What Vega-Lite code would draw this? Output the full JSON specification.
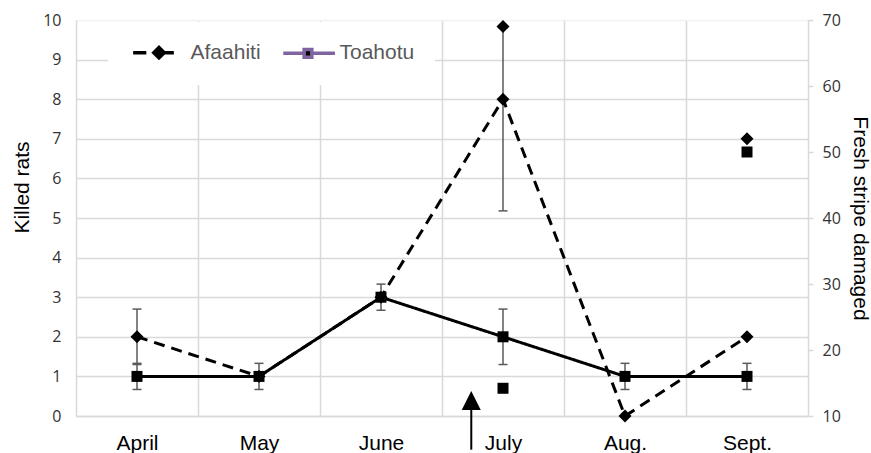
{
  "$schema": "https://vega.github.io/schema/vega-lite/v6.json",
  "width": 732,
  "height": 396,
  "autosize": {"type": "none"},
  "padding": {"left": 76, "top": 20, "right": 63, "bottom": 37},
  "background": "white",
  "config": {"view": {"stroke": null}, "font": "Liberation Sans"},
  "datasets": {
    "rats": [
      {"month": 1, "series": "Afaahiti", "rats": 2},
      {"month": 2, "series": "Afaahiti", "rats": 1},
      {"month": 3, "series": "Afaahiti", "rats": 3},
      {"month": 4, "series": "Afaahiti", "rats": 8},
      {"month": 5, "series": "Afaahiti", "rats": 0},
      {"month": 6, "series": "Afaahiti", "rats": 2},
      {"month": 1, "series": "Toahotu", "rats": 1},
      {"month": 2, "series": "Toahotu", "rats": 1},
      {"month": 3, "series": "Toahotu", "rats": 3},
      {"month": 4, "series": "Toahotu", "rats": 2},
      {"month": 5, "series": "Toahotu", "rats": 1},
      {"month": 6, "series": "Toahotu", "rats": 1}
    ],
    "errs": [
      {"month": 1, "series": "Afaahiti", "lo": 1.3, "hi": 2.7},
      {"month": 1, "series": "Toahotu", "lo": 0.67, "hi": 1.33},
      {"month": 2, "series": "Toahotu", "lo": 0.67, "hi": 1.33},
      {"month": 3, "series": "Toahotu", "lo": 2.67, "hi": 3.33},
      {"month": 4, "series": "Afaahiti", "lo": 5.18, "hi": 9.8},
      {"month": 4, "series": "Toahotu", "lo": 1.3, "hi": 2.7},
      {"month": 5, "series": "Toahotu", "lo": 0.67, "hi": 1.33},
      {"month": 6, "series": "Toahotu", "lo": 0.67, "hi": 1.33}
    ],
    "damage": [
      {"month": 4, "series": "Afaahiti", "damage": 69},
      {"month": 6, "series": "Afaahiti", "damage": 52},
      {"month": 4, "series": "Toahotu", "damage": 14.2},
      {"month": 6, "series": "Toahotu", "damage": 50}
    ],
    "arrow": [
      {"month": 3.74, "from": -0.85, "to": 0.3, "head": 0.39}
    ]
  },
  "layer": [
    {
      "layer": [
        {
          "data": {"name": "rats"},
          "mark": {"type": "line", "color": "black", "strokeWidth": 3, "strokeCap": "butt"},
          "encoding": {
            "x": {
              "field": "month", "type": "quantitative",
              "scale": {"domain": [0.5, 6.5], "nice": false, "zero": false},
              "axis": {
                "title": null,
                "values": [1, 1.5, 2, 2.5, 3, 3.5, 4, 4.5, 5, 5.5, 6],
                "labelExpr": "datum.value % 1 === 0 ? ['April','May','June','July','Aug.','Sept.'][datum.value - 1] : ''",
                "labelFont": "Liberation Sans", "labelFontSize": 21, "labelColor": "black",
                "labelPadding": 16, "labelOverlap": false, "labelFlush": false,
                "ticks": false,
                "grid": true, "gridColor": "#d9d9d9", "gridWidth": 1.5,
                "gridOpacity": {"condition": {"test": "datum.value % 1 === 0", "value": 0}, "value": 1},
                "domainColor": "#d9d9d9", "domainWidth": 1.5
              }
            },
            "y": {
              "field": "rats", "type": "quantitative",
              "scale": {"domain": [0, 10], "nice": false},
              "axis": {
                "title": "Killed rats", "values": [0, 1, 2, 3, 4, 5, 6, 7, 8, 9, 10], "labelOverlap": false,
                "ticks": false, "grid": true,
                "gridColor": {"condition": {"test": "datum.value === 10", "value": "#f2f2f2"}, "value": "#d9d9d9"},
                "gridWidth": 1.5, "domainColor": "#d9d9d9", "domainWidth": 1.5,
                "labelFont": "Open Sans", "labelFontSize": 16, "labelColor": "#333333", "labelPadding": 15,
                "titleFont": "Liberation Sans", "titleFontSize": 21, "titleFontWeight": "normal", "titleColor": "black",
                "titleX": -54, "titleY": 167, "titleAngle": -90, "titleAlign": "center", "titleBaseline": "middle"
              }
            },
            "strokeDash": {
              "field": "series", "type": "nominal",
              "scale": {"range": [[11, 7], [1, 0]]},
              "legend": null
            }
          }
        },
        {
          "data": {"name": "rats"},
          "mark": {"type": "point", "filled": false, "fill": "black", "opacity": 0},
          "encoding": {
            "x": {"field": "month", "type": "quantitative"},
            "y": {
              "field": "rats", "type": "quantitative",
              "axis": {
                "title": "Killed rats", "values": [0, 1, 2, 3, 4, 5, 6, 7, 8, 9, 10], "labelOverlap": false,
                "ticks": false, "grid": true,
                "gridColor": {"condition": {"test": "datum.value === 10", "value": "#f2f2f2"}, "value": "#d9d9d9"},
                "gridWidth": 1.5, "domainColor": "#d9d9d9", "domainWidth": 1.5,
                "labelFont": "Open Sans", "labelFontSize": 16, "labelColor": "#333333", "labelPadding": 15,
                "titleFont": "Liberation Sans", "titleFontSize": 21, "titleFontWeight": "normal", "titleColor": "black",
                "titleX": -54, "titleY": 167, "titleAngle": -90, "titleAlign": "center", "titleBaseline": "middle"
              }
            },
            "color": {
              "field": "series", "type": "nominal",
              "scale": {"range": ["black", "#8064a2"]},
              "legend": {
                "title": null, "orient": "none", "legendX": 32, "legendY": 2,
                "direction": "horizontal", "fillColor": "white", "padding": 20,
                "columnPadding": 15, "labelOffset": 21, "symbolOffset": 20.5,
                "labelFont": "Liberation Sans", "labelFontSize": 21, "labelColor": "#595959",
                "symbolSize": 121, "symbolStrokeWidth": 3.5,
                "symbolOpacity": 1, "symbolFillColor": "black",
                "encode": {"symbols": {"fill": {"value": "black"}, "fillOpacity": {"value": 1}}}
              }
            },
            "shape": {
              "field": "series", "type": "nominal",
              "scale": {
                "range": [
                  "M-4.7,0H-2.3M0.6,0H2.7M0,-0.95L0.95,0L0,0.95L-0.95,0Z",
                  "M-4.5,0H-0.7M0.7,0H4.9M-0.7,-0.7H0.7V0.7H-0.7Z"
                ]
              },
              "legend": {
                "title": null, "orient": "none", "legendX": 32, "legendY": 2,
                "direction": "horizontal", "fillColor": "white", "padding": 20,
                "columnPadding": 15, "labelOffset": 21, "symbolOffset": 20.5,
                "labelFont": "Liberation Sans", "labelFontSize": 21, "labelColor": "#595959",
                "symbolSize": 121, "symbolStrokeWidth": 3.5,
                "symbolOpacity": 1, "symbolFillColor": "black",
                "encode": {"symbols": {"fill": {"value": "black"}, "fillOpacity": {"value": 1}}}
              }
            }
          }
        },
        {
          "data": {"name": "errs"},
          "mark": {"type": "rule", "color": "#5a5a5a", "strokeWidth": 1.5},
          "encoding": {
            "x": {"field": "month", "type": "quantitative"},
            "y": {
              "field": "lo", "type": "quantitative",
              "axis": {
                "title": "Killed rats", "values": [0, 1, 2, 3, 4, 5, 6, 7, 8, 9, 10], "labelOverlap": false,
                "ticks": false, "grid": true,
                "gridColor": {"condition": {"test": "datum.value === 10", "value": "#f2f2f2"}, "value": "#d9d9d9"},
                "gridWidth": 1.5, "domainColor": "#d9d9d9", "domainWidth": 1.5,
                "labelFont": "Open Sans", "labelFontSize": 16, "labelColor": "#333333", "labelPadding": 15,
                "titleFont": "Liberation Sans", "titleFontSize": 21, "titleFontWeight": "normal", "titleColor": "black",
                "titleX": -54, "titleY": 167, "titleAngle": -90, "titleAlign": "center", "titleBaseline": "middle"
              }
            },
            "y2": {"field": "hi"}
          }
        },
        {
          "data": {"name": "errs"},
          "mark": {"type": "tick", "orient": "horizontal", "size": 9, "thickness": 1.5, "color": "#5a5a5a", "opacity": 1},
          "encoding": {
            "x": {"field": "month", "type": "quantitative"},
            "y": {
              "field": "lo", "type": "quantitative",
              "axis": {
                "title": "Killed rats", "values": [0, 1, 2, 3, 4, 5, 6, 7, 8, 9, 10], "labelOverlap": false,
                "ticks": false, "grid": true,
                "gridColor": {"condition": {"test": "datum.value === 10", "value": "#f2f2f2"}, "value": "#d9d9d9"},
                "gridWidth": 1.5, "domainColor": "#d9d9d9", "domainWidth": 1.5,
                "labelFont": "Open Sans", "labelFontSize": 16, "labelColor": "#333333", "labelPadding": 15,
                "titleFont": "Liberation Sans", "titleFontSize": 21, "titleFontWeight": "normal", "titleColor": "black",
                "titleX": -54, "titleY": 167, "titleAngle": -90, "titleAlign": "center", "titleBaseline": "middle"
              }
            }
          }
        },
        {
          "data": {"name": "errs"},
          "mark": {"type": "tick", "orient": "horizontal", "size": 9, "thickness": 1.5, "color": "#5a5a5a", "opacity": 1},
          "encoding": {
            "x": {"field": "month", "type": "quantitative"},
            "y": {
              "field": "hi", "type": "quantitative",
              "axis": {
                "title": "Killed rats", "values": [0, 1, 2, 3, 4, 5, 6, 7, 8, 9, 10], "labelOverlap": false,
                "ticks": false, "grid": true,
                "gridColor": {"condition": {"test": "datum.value === 10", "value": "#f2f2f2"}, "value": "#d9d9d9"},
                "gridWidth": 1.5, "domainColor": "#d9d9d9", "domainWidth": 1.5,
                "labelFont": "Open Sans", "labelFontSize": 16, "labelColor": "#333333", "labelPadding": 15,
                "titleFont": "Liberation Sans", "titleFontSize": 21, "titleFontWeight": "normal", "titleColor": "black",
                "titleX": -54, "titleY": 167, "titleAngle": -90, "titleAlign": "center", "titleBaseline": "middle"
              }
            }
          }
        },
        {
          "data": {"name": "rats"},
          "transform": [{"filter": "datum.series === 'Afaahiti'"}],
          "mark": {"type": "point", "filled": true, "size": 121, "color": "black", "opacity": 1, "shape": "M0,-1.18L1.18,0L0,1.18L-1.18,0Z"},
          "encoding": {
            "x": {"field": "month", "type": "quantitative"},
            "y": {
              "field": "rats", "type": "quantitative",
              "axis": {
                "title": "Killed rats", "values": [0, 1, 2, 3, 4, 5, 6, 7, 8, 9, 10], "labelOverlap": false,
                "ticks": false, "grid": true,
                "gridColor": {"condition": {"test": "datum.value === 10", "value": "#f2f2f2"}, "value": "#d9d9d9"},
                "gridWidth": 1.5, "domainColor": "#d9d9d9", "domainWidth": 1.5,
                "labelFont": "Open Sans", "labelFontSize": 16, "labelColor": "#333333", "labelPadding": 15,
                "titleFont": "Liberation Sans", "titleFontSize": 21, "titleFontWeight": "normal", "titleColor": "black",
                "titleX": -54, "titleY": 167, "titleAngle": -90, "titleAlign": "center", "titleBaseline": "middle"
              }
            }
          }
        },
        {
          "data": {"name": "rats"},
          "transform": [{"filter": "datum.series === 'Toahotu'"}],
          "mark": {"type": "point", "filled": true, "size": 121, "color": "black", "opacity": 1, "shape": "M-1,-1H1V1H-1Z"},
          "encoding": {
            "x": {"field": "month", "type": "quantitative"},
            "y": {
              "field": "rats", "type": "quantitative",
              "axis": {
                "title": "Killed rats", "values": [0, 1, 2, 3, 4, 5, 6, 7, 8, 9, 10], "labelOverlap": false,
                "ticks": false, "grid": true,
                "gridColor": {"condition": {"test": "datum.value === 10", "value": "#f2f2f2"}, "value": "#d9d9d9"},
                "gridWidth": 1.5, "domainColor": "#d9d9d9", "domainWidth": 1.5,
                "labelFont": "Open Sans", "labelFontSize": 16, "labelColor": "#333333", "labelPadding": 15,
                "titleFont": "Liberation Sans", "titleFontSize": 21, "titleFontWeight": "normal", "titleColor": "black",
                "titleX": -54, "titleY": 167, "titleAngle": -90, "titleAlign": "center", "titleBaseline": "middle"
              }
            }
          }
        },
        {
          "data": {"name": "arrow"},
          "mark": {"type": "rule", "color": "black", "strokeWidth": 2},
          "encoding": {
            "x": {"field": "month", "type": "quantitative"},
            "y": {
              "field": "from", "type": "quantitative",
              "axis": {
                "title": "Killed rats", "values": [0, 1, 2, 3, 4, 5, 6, 7, 8, 9, 10], "labelOverlap": false,
                "ticks": false, "grid": true,
                "gridColor": {"condition": {"test": "datum.value === 10", "value": "#f2f2f2"}, "value": "#d9d9d9"},
                "gridWidth": 1.5, "domainColor": "#d9d9d9", "domainWidth": 1.5,
                "labelFont": "Open Sans", "labelFontSize": 16, "labelColor": "#333333", "labelPadding": 15,
                "titleFont": "Liberation Sans", "titleFontSize": 21, "titleFontWeight": "normal", "titleColor": "black",
                "titleX": -54, "titleY": 167, "titleAngle": -90, "titleAlign": "center", "titleBaseline": "middle"
              }
            },
            "y2": {"field": "to"}
          }
        },
        {
          "data": {"name": "arrow"},
          "mark": {"type": "point", "filled": true, "shape": "M0,-1L1,1L-1,1Z", "size": 361, "color": "black", "opacity": 1},
          "encoding": {
            "x": {"field": "month", "type": "quantitative"},
            "y": {
              "field": "head", "type": "quantitative",
              "axis": {
                "title": "Killed rats", "values": [0, 1, 2, 3, 4, 5, 6, 7, 8, 9, 10], "labelOverlap": false,
                "ticks": false, "grid": true,
                "gridColor": {"condition": {"test": "datum.value === 10", "value": "#f2f2f2"}, "value": "#d9d9d9"},
                "gridWidth": 1.5, "domainColor": "#d9d9d9", "domainWidth": 1.5,
                "labelFont": "Open Sans", "labelFontSize": 16, "labelColor": "#333333", "labelPadding": 15,
                "titleFont": "Liberation Sans", "titleFontSize": 21, "titleFontWeight": "normal", "titleColor": "black",
                "titleX": -54, "titleY": 167, "titleAngle": -90, "titleAlign": "center", "titleBaseline": "middle"
              }
            }
          }
        }
      ]
    },
    {
      "layer": [
        {
          "data": {"name": "damage"},
          "transform": [{"filter": "datum.series === 'Afaahiti'"}],
          "mark": {"type": "point", "filled": true, "size": 121, "color": "black", "opacity": 1, "shape": "M0,-1.18L1.18,0L0,1.18L-1.18,0Z"},
          "encoding": {
            "x": {"field": "month", "type": "quantitative"},
            "y": {
              "field": "damage", "type": "quantitative",
              "scale": {"domain": [10, 70], "nice": false, "zero": false},
              "axis": {
                "orient": "right", "title": "Fresh stripe damaged", "values": [10, 20, 30, 40, 50, 60, 70],
                "grid": false, "ticks": true, "tickColor": "#d9d9d9", "tickWidth": 1.5, "tickSize": 5,
                "domainColor": "#d9d9d9", "domainWidth": 1.5,
                "labelFont": "Open Sans", "labelFontSize": 16, "labelColor": "#333333", "labelPadding": 9,
                "titleFont": "Liberation Sans", "titleFontSize": 21, "titleFontWeight": "normal", "titleColor": "black",
                "titleX": 51, "titleY": 198, "titleAngle": 90, "titleAlign": "center", "titleBaseline": "middle"
              }
            }
          }
        },
        {
          "data": {"name": "damage"},
          "transform": [{"filter": "datum.series === 'Toahotu'"}],
          "mark": {"type": "point", "filled": true, "size": 121, "color": "black", "opacity": 1, "shape": "M-1,-1H1V1H-1Z"},
          "encoding": {
            "x": {"field": "month", "type": "quantitative"},
            "y": {
              "field": "damage", "type": "quantitative",
              "scale": {"domain": [10, 70], "nice": false, "zero": false},
              "axis": {
                "orient": "right", "title": "Fresh stripe damaged", "values": [10, 20, 30, 40, 50, 60, 70],
                "grid": false, "ticks": true, "tickColor": "#d9d9d9", "tickWidth": 1.5, "tickSize": 5,
                "domainColor": "#d9d9d9", "domainWidth": 1.5,
                "labelFont": "Open Sans", "labelFontSize": 16, "labelColor": "#333333", "labelPadding": 9,
                "titleFont": "Liberation Sans", "titleFontSize": 21, "titleFontWeight": "normal", "titleColor": "black",
                "titleX": 51, "titleY": 198, "titleAngle": 90, "titleAlign": "center", "titleBaseline": "middle"
              }
            }
          }
        }
      ]
    }
  ],
  "resolve": {"scale": {"y": "independent"}}
}
